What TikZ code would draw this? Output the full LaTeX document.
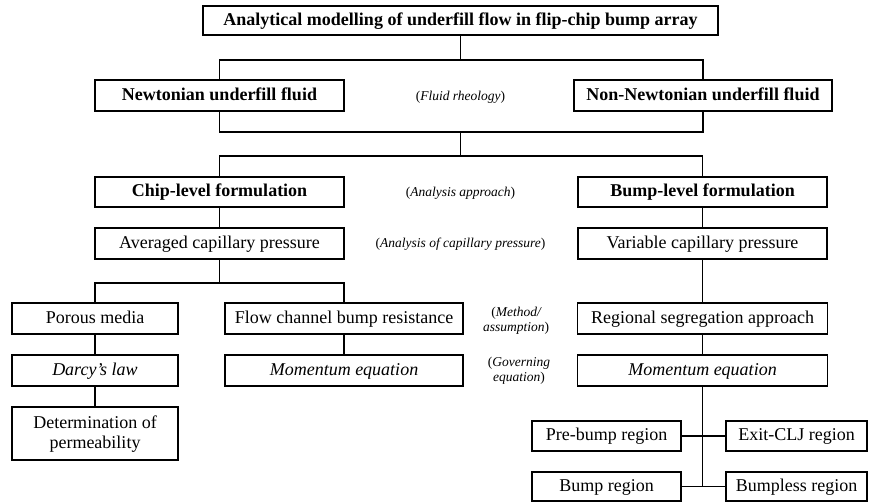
\documentclass[tikz,border=0pt]{standalone}
\usepackage{fontspec}
\setmainfont{Liberation Serif}
\begin{document}
\begin{tikzpicture}[x=1pt,y=-1pt,
  box/.style={draw, line width=1.4pt, inner sep=0pt, align=center, text height=13pt, text depth=3.5pt, font=\fontsize{18}{20}\selectfont},
  bbox/.style={box, font=\fontsize{18}{20}\selectfont\bfseries},
  ibox/.style={box, font=\fontsize{18}{20}\selectfont\itshape},
  note/.style={inner sep=0pt, align=center, font=\fontsize{13.5}{15.5}\selectfont\itshape},
  conn/.style={line width=1.4pt}]
\useasboundingbox (0,0) rectangle (869,502);
% top level
\node[bbox, minimum width=515pt, minimum height=29pt] (top) at (460.5,20.5) {Analytical modelling of underfill flow in flip-chip bump array};
\node[bbox, minimum width=249pt, minimum height=31pt] (newt) at (219.5,95.5) {Newtonian underfill fluid};
\node[bbox, minimum width=258pt, minimum height=31pt] (nonnewt) at (703,95.5) {Non-Newtonian underfill fluid};
\node[note] (rheo) at (460.5,97) {\textup{(}Fluid rheology\textup{)}};
% level 2
\node[bbox, minimum width=249pt, minimum height=30pt] (chip) at (219.5,192) {Chip-level formulation};
\node[bbox, minimum width=249pt, minimum height=30pt] (bumplvl) at (702.5,192) {Bump-level formulation};
\node[note] (appr) at (460.5,193) {\textup{(}Analysis approach\textup{)}};
% level 3
\node[box, minimum width=249pt, minimum height=31pt] (avg) at (219.5,243.5) {Averaged capillary pressure};
\node[box, minimum width=249pt, minimum height=31pt] (var) at (702.5,243.5) {Variable capillary pressure};
\node[note] (capan) at (460.5,244) {\textup{(}Analysis of capillary pressure\textup{)}};
% level 4
\node[box, minimum width=166pt, minimum height=31pt] (porous) at (95,318.5) {Porous media};
\node[box, minimum width=238pt, minimum height=31pt] (flow) at (344,318.5) {Flow channel bump resistance};
\node[box, minimum width=250pt, minimum height=31pt] (regional) at (702.5,318.5) {Regional segregation approach};
\node[note] (meth) at (516,321) {\textup{(}Method/\\assumption\textup{)}};
% level 5
\node[ibox, minimum width=166pt, minimum height=31pt] (darcy) at (95,370.5) {Darcy’s law};
\node[ibox, minimum width=238pt, minimum height=31pt] (moml) at (344,370.5) {Momentum equation};
\node[ibox, minimum width=250pt, minimum height=31pt] (momr) at (702.5,370.5) {Momentum equation};
\node[note] (gov) at (519,371) {\textup{(}Governing\\equation\textup{)}};
% level 6
\node[box, text height=34pt, text depth=3.5pt, minimum width=166pt, minimum height=53pt] (perm) at (95,433.5) {Determination of\\permeability};
\node[box, minimum width=149pt, minimum height=30pt] (pre) at (606.5,436) {Pre-bump region};
\node[box, minimum width=141pt, minimum height=30pt] (exit) at (796.5,436) {Exit-CLJ region};
\node[box, minimum width=149pt, minimum height=29pt] (bump) at (606.5,486.5) {Bump region};
\node[box, minimum width=141pt, minimum height=29pt] (bumpless) at (796.5,486.5) {Bumpless region};
% junctions
\coordinate (j1) at (460.5,60);
\coordinate (j2) at (460.5,132);
\coordinate (j3) at (460.5,156);
\coordinate (j4) at (219.5,283);
\coordinate (j5) at (702.5,486.5);
% connectors
\draw[conn] (top.south) -- (j1);
\draw[conn] (newt.north) |- (j1) -| (nonnewt.north);
\draw[conn] (newt.south) |- (j2) -| (nonnewt.south);
\draw[conn] (j2) -- (j3);
\draw[conn] (chip.north) |- (j3) -| (bumplvl.north);
\draw[conn] (chip) -- (avg);
\draw[conn] (bumplvl) -- (var);
\draw[conn] (avg.south) -- (j4);
\draw[conn] (porous.north) |- (j4) -| (flow.north);
\draw[conn] (var) -- (regional);
\draw[conn] (porous) -- (darcy);
\draw[conn] (darcy) -- (perm);
\draw[conn] (flow) -- (moml);
\draw[conn] (regional) -- (momr);
\draw[conn] (momr.south) -- (j5);
\draw[conn] (pre.east) -- (exit.west);
\draw[conn] (bump.east) -- (bumpless.west);
\end{tikzpicture}
\end{document}
